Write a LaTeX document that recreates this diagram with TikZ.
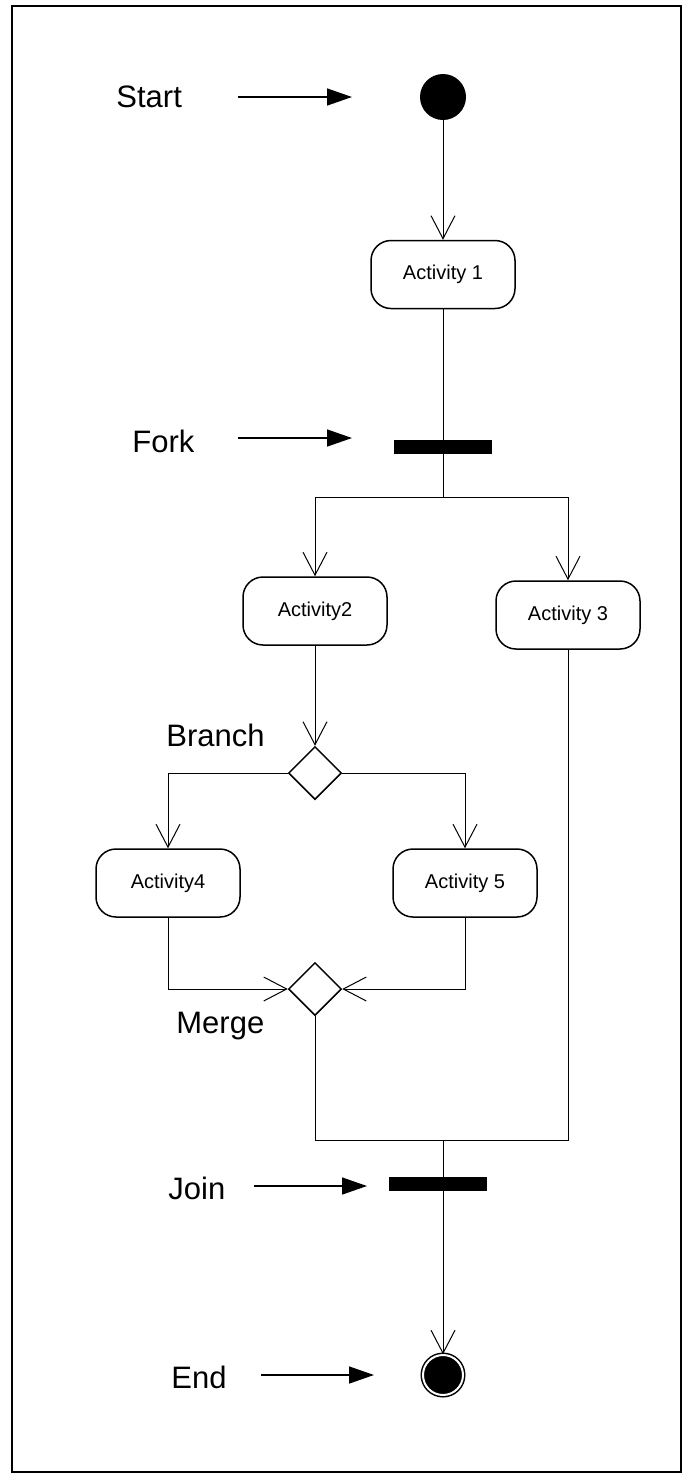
\documentclass[tikz,border=0pt]{standalone}
\usepackage{fontspec}
\setmainfont{Liberation Sans}
\usetikzlibrary{arrows.meta,shapes.geometric}

\begin{document}
\begin{tikzpicture}[x=0.5pt, y=-0.5pt,
		wire/.style={line width=0.5pt},
		flow/.style={wire, -{Straight Barb[length=11.5pt, width=12pt]}},
		pointer/.style={line width=0.75pt, -{Triangle[length=12.5pt, width=8.5pt]}},
		activity/.style={draw, line width=0.75pt, rounded corners=10pt, minimum width=72pt, minimum height=34pt, inner sep=0pt, font=\fontsize{10}{12}\selectfont},
		decision/.style={diamond, draw, line width=0.75pt, aspect=1, minimum width=26.5pt, minimum height=26.5pt, inner sep=0pt},
		syncbar/.style={rectangle, fill=black, minimum width=49pt, minimum height=7pt, inner sep=0pt},
		startdot/.style={circle, fill=black, minimum size=23pt, inner sep=0pt},
		enddot/.style={circle, fill=black, draw=black, double=white, double distance=1pt, line width=0.75pt, minimum size=20pt, inner sep=0pt},
		tag/.style={anchor=base west, inner sep=0pt, font=\fontsize{15.5}{18}\selectfont}]
		\useasboundingbox (0,0) rectangle (683,1474);
		\draw[line width=0.9pt] (12,6) rectangle (681,1472);
		% states
		\node[startdot] (start) at (443,97) {};
		\node[activity] (act1) at (443,274.5) {Activity 1};
		\node[syncbar] (fork) at (443,447) {};
		\node[activity] (act2) at (315,611) {Activity2};
		\node[activity] (act3) at (568,615) {Activity 3};
		\node[decision] (branch) at (315,773) {};
		\node[activity] (act4) at (168,883) {Activity4};
		\node[activity] (act5) at (465,883) {Activity 5};
		\node[decision] (merge) at (315,989) {};
		\node[syncbar] (join) at (438,1184) {};
		\node[enddot] (finish) at (443,1375) {};
		% names
		\node[tag] (startlbl) at (116,107.5) {Start};
		\node[tag] (forklbl) at (132,452) {Fork};
		\node[tag] (branchlbl) at (166,746) {Branch};
		\node[tag] (mergelbl) at (176,1033) {Merge};
		\node[tag] (joinlbl) at (168,1199) {Join};
		\node[tag] (endlbl) at (171,1388) {End};
		\foreach \n/\y/\xa/\xb in {start/97/238/352, fork/438/238/352, join/1186/254/367, end/1375/261/374} {
			\coordinate (\n tail) at (\xa,\y);
			\coordinate (\n tip) at (\xb,\y);
			\draw[pointer] (\n tail) -- (\n tip);
		}
		% flow
		\coordinate (forkjct) at (443,497);
		\coordinate (joinjct) at (443,1140);
		\draw[flow] (start) -- (act1);
		\draw[wire] (act1) -- (fork);
		\draw[wire] (fork.south) -- (forkjct);
		\draw[flow] (forkjct) -| (act2.north);
		\draw[flow] (forkjct) -| (act3.north);
		\draw[flow] (act2) -- (branch);
		\draw[flow] (branch.west) -| (act4.north);
		\draw[flow] (branch.east) -| (act5.north);
		\draw[flow] (act4.south) |- (merge.west);
		\draw[flow] (act5.south) |- (merge.east);
		\draw[wire] (merge.south) |- (joinjct);
		\draw[wire] (act3.south) |- (joinjct);
		\draw[wire] (joinjct) -- (joinjct |- join.north);
		\draw[flow] (joinjct |- join.south) -- (finish);
	\end{tikzpicture}
\end{document}
